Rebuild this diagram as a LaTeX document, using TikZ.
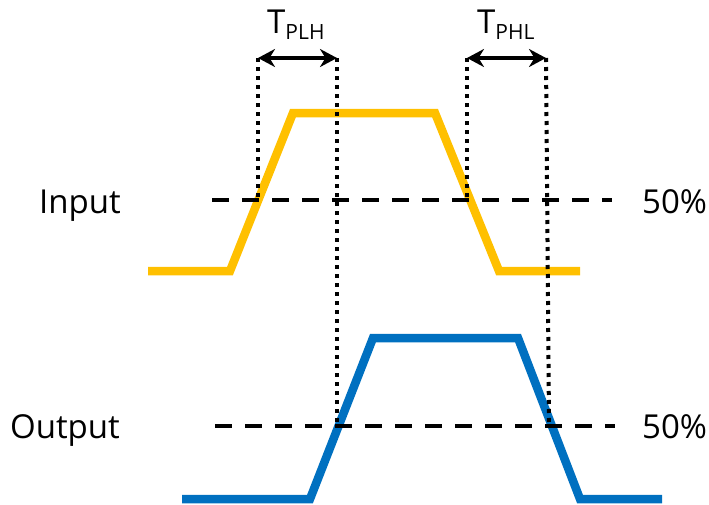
\documentclass[tikz,border=0pt]{standalone}
\usepackage{fontspec}
\setmainfont{Open Sans}
\usetikzlibrary{arrows.meta}
\definecolor{inyellow}{HTML}{FFC000}
\definecolor{outblue}{HTML}{0070C0}
\begin{document}
\begin{tikzpicture}[x=1pt,y=-1pt,
  wave/.style={line width=8.5pt, line join=miter},
  halfline/.style={line width=3.8pt, dash pattern=on 17pt off 13pt},
  guide/.style={line width=4pt, dash pattern=on 4pt off 5pt},
  lbl/.style={font=\fontsize{33}{40}\selectfont, inner sep=0pt},
  tlbl/.style={font=\fontsize{33}{38}\selectfont, inner sep=0pt, anchor=base west},
  meas/.style={line width=4.5pt, {Stealth[length=17pt,width=18pt]}-{Stealth[length=17pt,width=18pt]}}
]
\useasboundingbox (0,0) rectangle (709,504);
% input waveform
\coordinate (i1) at (148,271);
\coordinate (i2) at (230,271);
\coordinate (i3) at (293,113);
\coordinate (i4) at (435,113);
\coordinate (i5) at (499,271);
\coordinate (i6) at (580,271);
\draw[wave, inyellow] (i1) -- (i2) -- (i3) -- (i4) -- (i5) -- (i6);
% output waveform
\coordinate (o1) at (182,499);
\coordinate (o2) at (310,499);
\coordinate (o3) at (373,338);
\coordinate (o4) at (518,338);
\coordinate (o5) at (580,499);
\coordinate (o6) at (662,499);
\draw[wave, outblue] (o1) -- (o2) -- (o3) -- (o4) -- (o5) -- (o6);
% 50% lines
\coordinate (hi1) at (212,200);
\coordinate (hi2) at (612,200);
\coordinate (ho1) at (215,426);
\coordinate (ho2) at (615,426);
\draw[halfline] (hi1) -- (hi2);
\draw[halfline] (ho1) -- (ho2);
% guides
\coordinate (g1t) at (258,58);
\coordinate (g1b) at (258,200);
\coordinate (g2t) at (337,58);
\coordinate (g2b) at (337,424);
\coordinate (g3t) at (467,58);
\coordinate (g3b) at (467,200);
\coordinate (g4t) at (546,58);
\coordinate (g4b) at (549,424);
\draw[guide] (g1t) -- (g1b);
\draw[guide] (g2t) -- (g2b);
\draw[guide] (g3t) -- (g3b);
\draw[guide] (g4t) -- (g4b);
% measurement arrows
\draw[meas] (g1t) -- (g2t);
\draw[meas] (g3t) -- (g4t);
% labels
\node[tlbl] (tplh) at (267,33) {T\raisebox{-6pt}{\fontsize{21}{22}\selectfont PLH}};
\node[tlbl] (tphl) at (477,33) {T\raisebox{-6pt}{\fontsize{21}{22}\selectfont PHL}};
\node[lbl, anchor=base east] (in) at (121,213) {Input};
\node[lbl, anchor=base east] (out) at (120,438) {Output};
\node[lbl, anchor=base west] (p1) at (642,213) {50\%};
\node[lbl, anchor=base west] (p2) at (642,438) {50\%};
\end{tikzpicture}
\end{document}
